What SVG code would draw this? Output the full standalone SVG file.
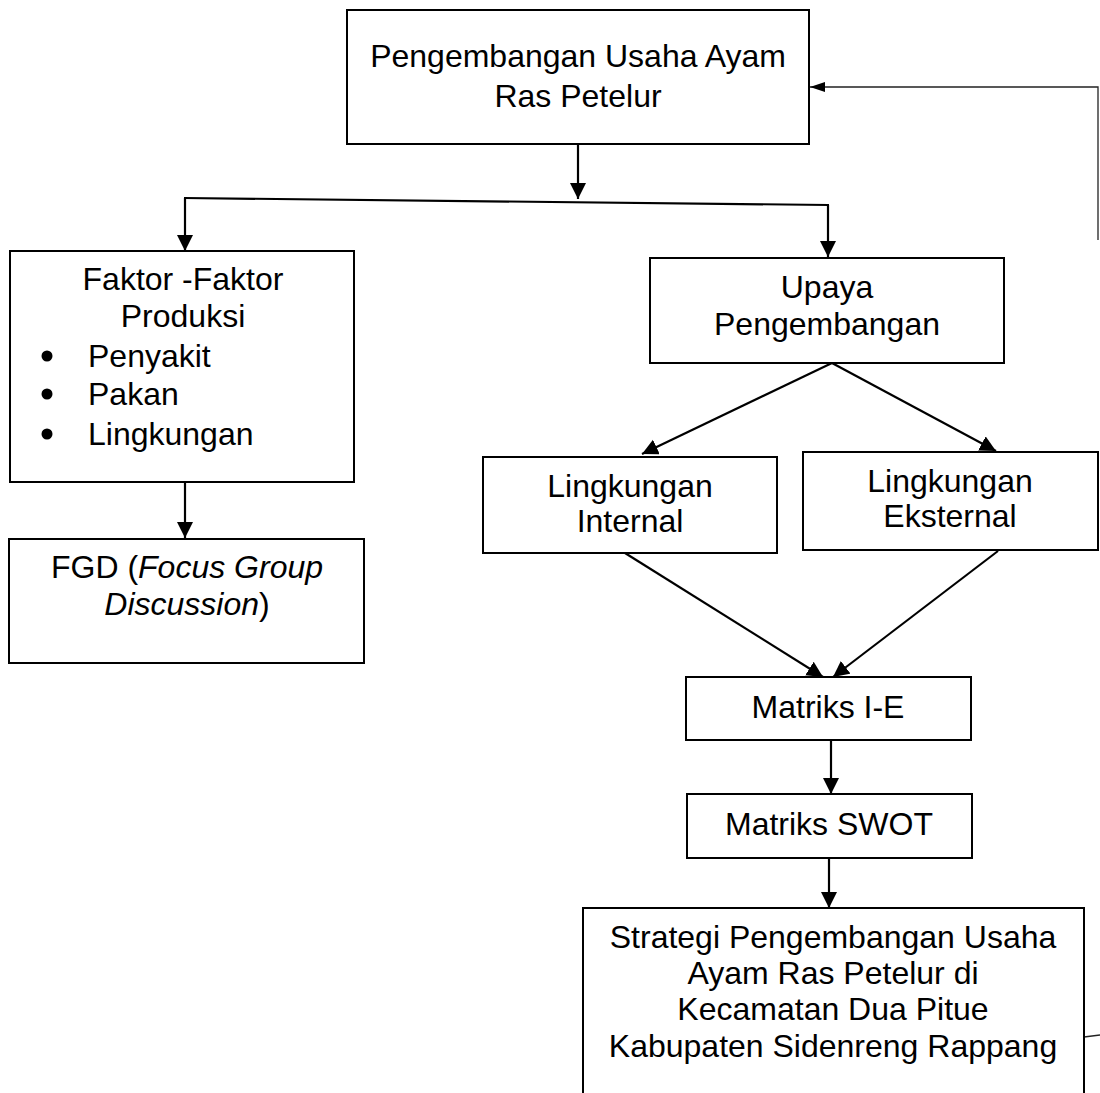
<svg xmlns="http://www.w3.org/2000/svg" width="1100" height="1093" viewBox="0 0 1100 1093">
<style>
.box{fill:#fff;stroke:#000;stroke-width:2}
.t{font-family:"Liberation Sans",Arial,sans-serif;font-size:32px;fill:#000;text-anchor:middle}
.tl{font-family:"Liberation Sans",Arial,sans-serif;font-size:32px;fill:#000}
.c{fill:none;stroke:#000;stroke-width:2.2}
.fb{fill:none;stroke:#222;stroke-width:1.3}
</style>
<defs>
<marker id="ah" markerUnits="userSpaceOnUse" markerWidth="17" markerHeight="17" refX="16" refY="8" orient="auto">
<path d="M0,0 L16,8 L0,16 z" fill="#000"/>
</marker>
<marker id="ahs" markerUnits="userSpaceOnUse" markerWidth="16" markerHeight="11" refX="15" refY="5" orient="auto">
<path d="M0,0 L15,5 L0,10 z" fill="#000"/>
</marker>
</defs>
<rect width="1100" height="1093" fill="#fff"/>
<g id="connectors">
<line class="c" x1="578" y1="144" x2="578" y2="199" marker-end="url(#ah)"/>
<line class="c" x1="184" y1="198" x2="829" y2="205"/>
<line class="c" x1="185" y1="198" x2="185" y2="251" marker-end="url(#ah)"/>
<line class="c" x1="828" y1="205" x2="828" y2="257" marker-end="url(#ah)"/>
<line class="c" x1="185" y1="482" x2="185" y2="538" marker-end="url(#ah)"/>
<line class="c" x1="832" y1="363" x2="642" y2="454" marker-end="url(#ah)"/>
<line class="c" x1="832" y1="363" x2="996" y2="451" marker-end="url(#ah)"/>
<line class="c" x1="625" y1="553" x2="823" y2="677" marker-end="url(#ah)"/>
<line class="c" x1="998" y1="551" x2="833" y2="677" marker-end="url(#ah)"/>
<line class="c" x1="831" y1="740" x2="831" y2="794" marker-end="url(#ah)"/>
<line class="c" x1="829" y1="858" x2="829" y2="908" marker-end="url(#ah)"/>
<polyline class="fb" points="1098,240 1098,87 810,87" marker-end="url(#ahs)"/>
<line class="fb" x1="1084" y1="1037" x2="1100" y2="1035"/>
</g>
<g id="node-top">
<rect class="box" x="347" y="10" width="462" height="134"/>
<text class="t" x="578" y="67">Pengembangan Usaha Ayam</text>
<text class="t" x="578" y="107">Ras Petelur</text>
</g>
<g id="node-faktor">
<rect class="box" x="10" y="251" width="344" height="231"/>
<text class="t" x="183" y="290">Faktor -Faktor</text>
<text class="t" x="183" y="327">Produksi</text>
<circle cx="47" cy="356" r="5.5"/>
<text class="tl" x="88" y="367">Penyakit</text>
<circle cx="47" cy="394" r="5.5"/>
<text class="tl" x="88" y="405">Pakan</text>
<circle cx="47" cy="434" r="5.5"/>
<text class="tl" x="88" y="445">Lingkungan</text>
</g>
<g id="node-fgd">
<rect class="box" x="9" y="539" width="355" height="124"/>
<text class="t" x="187" y="578">FGD (<tspan font-style="italic">Focus Group</tspan></text>
<text class="t" x="187" y="615"><tspan font-style="italic">Discussion</tspan>)</text>
</g>
<g id="node-upaya">
<rect class="box" x="650" y="258" width="354" height="105"/>
<text class="t" x="827" y="298">Upaya</text>
<text class="t" x="827" y="335">Pengembangan</text>
</g>
<g id="node-internal">
<rect class="box" x="483" y="457" width="294" height="96"/>
<text class="t" x="630" y="497">Lingkungan</text>
<text class="t" x="630" y="532">Internal</text>
</g>
<g id="node-eksternal">
<rect class="box" x="803" y="452" width="295" height="98"/>
<text class="t" x="950" y="492">Lingkungan</text>
<text class="t" x="950" y="527">Eksternal</text>
</g>
<g id="node-ie">
<rect class="box" x="686" y="677" width="285" height="63"/>
<text class="t" x="828" y="718">Matriks I-E</text>
</g>
<g id="node-swot">
<rect class="box" x="687" y="794" width="285" height="64"/>
<text class="t" x="829" y="835">Matriks SWOT</text>
</g>
<g id="node-strategi">
<rect class="box" x="583" y="908" width="501" height="200"/>
<text class="t" x="833" y="948">Strategi Pengembangan Usaha</text>
<text class="t" x="833" y="984">Ayam Ras Petelur di</text>
<text class="t" x="833" y="1020">Kecamatan Dua Pitue</text>
<text class="t" x="833" y="1057">Kabupaten Sidenreng Rappang</text>
</g>
</svg>
